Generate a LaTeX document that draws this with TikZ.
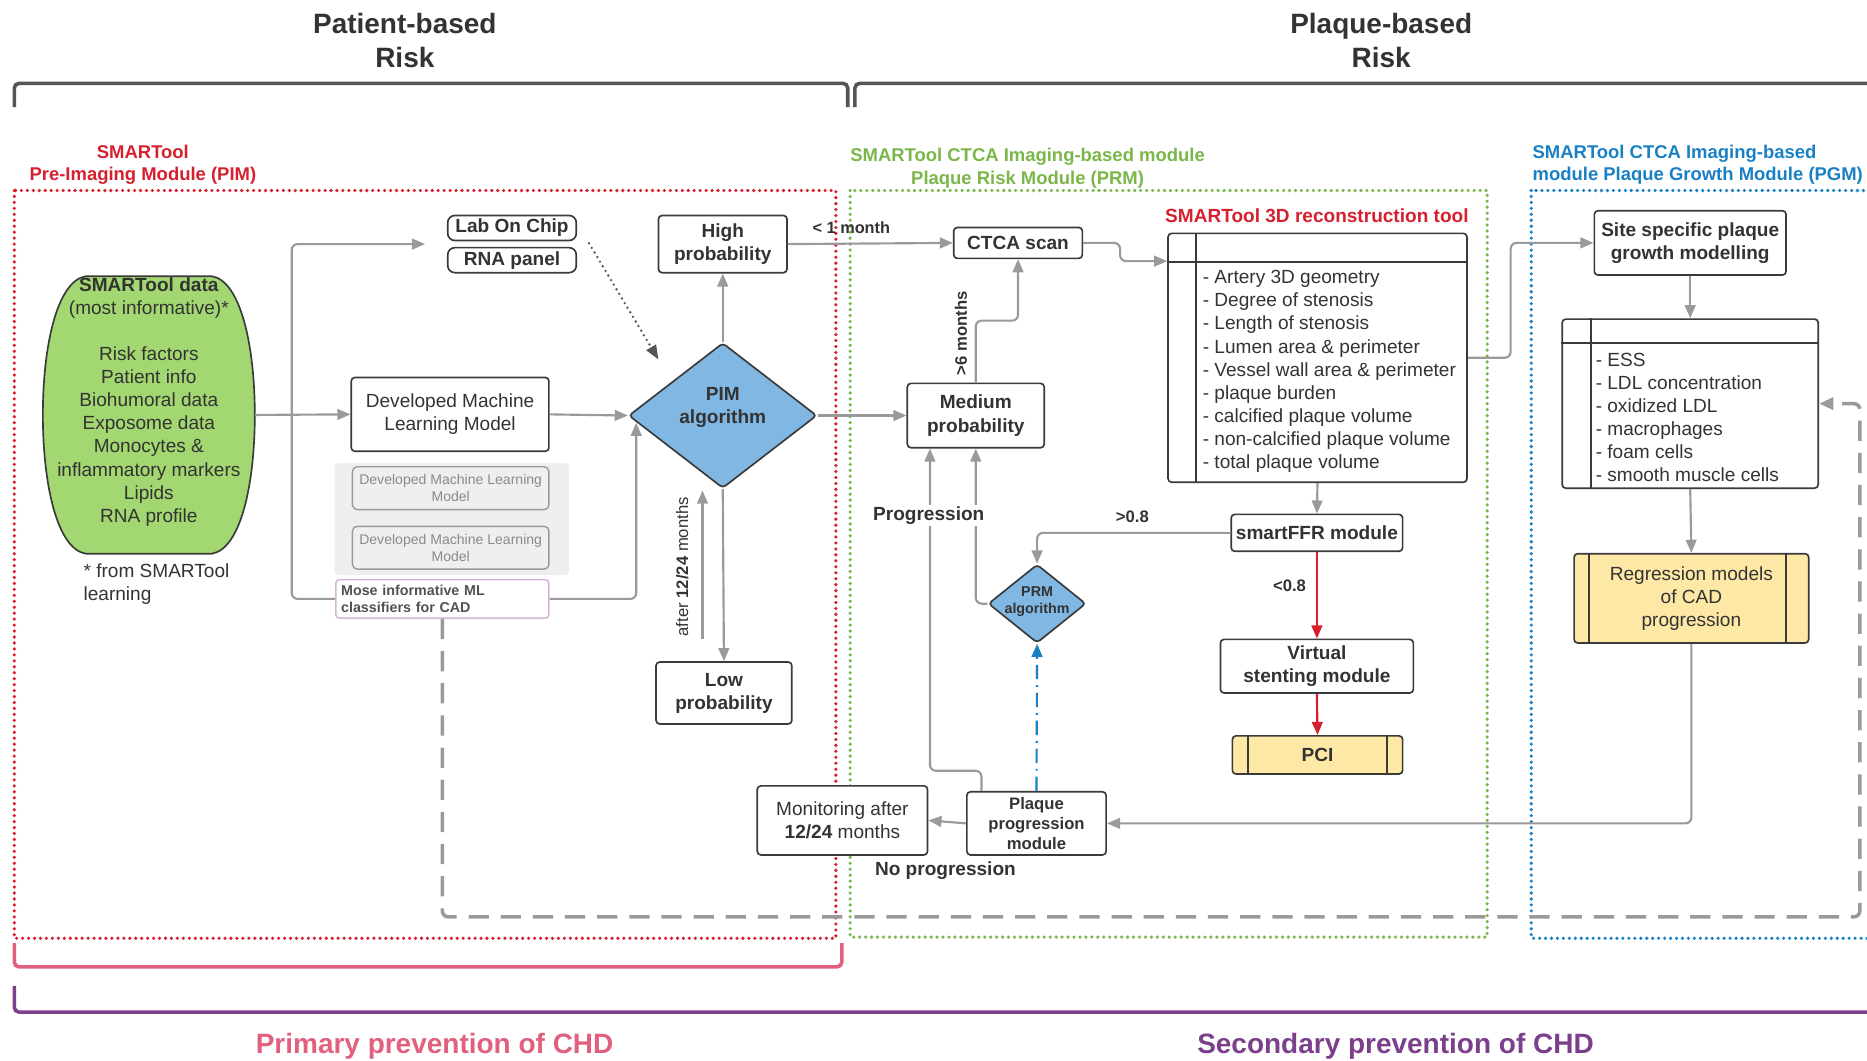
\documentclass[tikz,border=0pt]{standalone}
\usepackage{fontspec}
\setmainfont{Liberation Sans}
\usetikzlibrary{arrows.meta,calc,shapes.geometric}
\definecolor{txt}{HTML}{333333}
\definecolor{bord}{HTML}{3A3A3A}
\definecolor{agray}{HTML}{9A9A9A}
\definecolor{pimred}{HTML}{D6202F}
\definecolor{prmgreen}{HTML}{7AB648}
\definecolor{pgmblue}{HTML}{1A80C4}
\definecolor{pinkb}{HTML}{E0607E}
\definecolor{purpb}{HTML}{7B3F8B}
\definecolor{diafill}{HTML}{80B7E3}
\definecolor{yel}{HTML}{FDE8A6}
\definecolor{grn}{HTML}{A2D771}
\definecolor{panel}{HTML}{EFEFEF}
\definecolor{lilac}{HTML}{D8B2DA}
\definecolor{brk}{HTML}{555555}
\definecolor{gtxt}{HTML}{8A8A8A}
\begin{document}
\begin{tikzpicture}[x=1pt,y=-1pt,
  fbig/.style={font=\fontsize{23.5}{28}\selectfont\bfseries},
  freg/.style={font=\fontsize{15.5}{19}\selectfont\bfseries},
  fn/.style={font=\fontsize{16}{19.4}\selectfont},
  fb/.style={font=\fontsize{16}{19.4}\selectfont\bfseries},
  fsb/.style={font=\fontsize{14}{17}\selectfont\bfseries},
  fs/.style={font=\fontsize{14}{17}\selectfont},
  ftb/.style={font=\fontsize{12}{14.5}\selectfont\bfseries},
  ft/.style={font=\fontsize{11.8}{14.5}\selectfont},
  box/.style={draw=bord, line width=1.4pt, rounded corners=3pt, fill=white, align=center, inner sep=1pt, text=txt},
  arr/.style={draw=agray, line width=1.8pt, -{Triangle[length=11pt,width=9pt]}, rounded corners=5pt},
  ln/.style={draw=agray, line width=1.8pt, rounded corners=5pt},
  redarr/.style={draw=pimred, line width=1.8pt, -{Triangle[length=11pt,width=9pt]}},
  darr/.style={draw=brk, line width=2.2pt, dash pattern=on 0pt off 4.5pt, line cap=round, -{Triangle[length=12pt,width=9pt]}},
  bluearr/.style={draw=pgmblue, line width=1.8pt, dash pattern=on 12pt off 5pt on 1.5pt off 5pt, -{Triangle[length=11pt,width=9pt]}},
  dashret/.style={draw=agray, line width=3pt, dash pattern=on 17pt off 10pt, rounded corners=5pt, -{Triangle[length=12pt,width=10pt]}},
  dotreg/.style={line width=3pt, dash pattern=on 0pt off 5pt, line cap=round},
  brack/.style={line width=3pt, rounded corners=4pt},
  lbl/.style={text=txt, inner sep=1pt},
  dia/.style={shape=diamond, draw=bord, line width=1.4pt, fill=diafill, inner sep=0pt, rounded corners=3pt}
]
\useasboundingbox (0,0) rectangle (1568,891);
\clip (0,0) rectangle (1568,891);

% titles
\node[fbig, text=txt, align=center] (t1) at (340,34) {Patient-based\\Risk};
\node[fbig, text=txt, align=center] (t2) at (1160,34) {Plaque-based\\Risk};

% top brackets
\draw[brack, draw=brk] (12,90) -- (12,70) -- (712,70) -- (712,90);
\draw[brack, draw=brk] (718,90) -- (718,70) -- (1600,70);

% region labels
\node[freg, text=pimred, align=center] (lpim) at (120,138.5) {SMARTool\\Pre-Imaging Module (PIM)};
\node[freg, text=prmgreen, align=center] (lprm) at (863,141.5) {SMARTool CTCA Imaging-based module\\Plaque Risk Module (PRM)};
\node[freg, text=pgmblue, align=left, anchor=west, inner sep=0pt] (lpgm) at (1287,138.5) {SMARTool CTCA Imaging-based\\module Plaque Growth Module (PGM)};

% dotted regions
\draw[dotreg, draw=pimred] (12,160) rectangle (702,788);
\draw[dotreg, draw=prmgreen] (714,160) rectangle (1249,787);
\draw[dotreg, draw=pgmblue] (1286,160) rectangle (1600,788);

% bottom brackets
\draw[brack, draw=pinkb] (12,792) -- (12,812) -- (707,812) -- (707,792);
\draw[brack, draw=purpb] (12,828) -- (12,850) -- (1600,850);
\node[fbig, text=pinkb] (lprim) at (365,879) {Primary prevention of CHD};
\node[fbig, text=purpb] (lsec) at (1172,879) {Secondary prevention of CHD};

% dashed return line (drawn early, under nodes)
\node[draw=lilac, line width=1.3pt, fill=white, rounded corners=3pt, minimum width=179pt, minimum height=32pt, text width=170pt, align=left, inner sep=4.5pt, ftb, text=txt!85] (mose) at (371.5,503) {Mose informative ML\\classifiers for CAD};
\node[draw=bord, line width=1.4pt, rounded corners=3pt, fill=white, minimum width=215pt, minimum height=142pt, inner sep=0pt] (ess) at (1419.5,339) {};
\draw[dashret] (mose.south) |- (1562,770) |- (ess.east);

% SMARTool data barrel
\draw[draw=bord, line width=1.4pt, fill=grn] (72,232) -- (178,232) .. controls (202,236) and (214,290) .. (214,348.5) .. controls (214,407) and (202,461) .. (178,465) -- (72,465) .. controls (48,461) and (36,407) .. (36,348.5) .. controls (36,290) and (48,236) .. (72,232) -- cycle;
\node[minimum width=178pt, minimum height=233pt, inner sep=0pt,
  label={[fn, text=txt, align=center, yshift=11pt]center:{\textbf{SMARTool data}\\(most informative)*\\[19.4pt]Risk factors\\Patient info\\Biohumoral data\\Exposome data\\Monocytes \&\\inflammatory markers\\Lipids\\RNA profile}}] (data) at (125,348.5) {};
\node[fn, text=txt, align=left, anchor=west, inner sep=0pt] (foot) at (70,490.5) {* from SMARTool\\learning};

% left column boxes
\node[box, fb, rounded corners=6pt, minimum width=108pt, minimum height=21pt] (labchip) at (430,191.5) {Lab On Chip};
\node[box, fb, rounded corners=6pt, minimum width=108pt, minimum height=21pt] (rnapanel) at (430,218.5) {RNA panel};
\node[box, fn, minimum width=166pt, minimum height=62pt] (devml) at (378,348) {Developed Machine\\Learning Model};
\node[fill=panel, rounded corners=3pt, minimum width=197pt, minimum height=94pt, inner sep=0pt] (panel) at (379.5,436) {};
\node[draw=agray, line width=1.2pt, fill=panel, rounded corners=4pt, minimum width=165pt, minimum height=36pt, align=center, inner sep=1pt, ft, text=gtxt] (gml1) at (378.5,410) {Developed Machine Learning\\Model};
\node[draw=agray, line width=1.2pt, fill=panel, rounded corners=4pt, minimum width=165pt, minimum height=36pt, align=center, inner sep=1pt, ft, text=gtxt] (gml2) at (378.5,460) {Developed Machine Learning\\Model};

% PIM diamond and probabilities
\node[dia, minimum width=158pt, minimum height=122pt, label={[fb, text=txt, align=center, yshift=7pt]center:{PIM\\algorithm}}] (pim) at (607,349) {};
\node[box, fb, minimum width=108pt, minimum height=48pt] (highp) at (607,205) {High\\probability};
\node[box, fb, minimum width=114pt, minimum height=52pt] (lowp) at (608,582) {Low\\probability};
\node[box, fb, minimum width=115pt, minimum height=54pt] (medp) at (819.5,349) {Medium\\probability};
\node[box, fb, minimum width=108pt, minimum height=26pt] (ctca) at (855,204) {CTCA scan};

% reconstruction tool
\node[text=pimred, font=\fontsize{16}{19}\selectfont\bfseries] (lrecon) at (1106,181) {SMARTool 3D reconstruction tool};
\node[draw=bord, line width=1.4pt, rounded corners=3pt, fill=white, minimum width=251pt, minimum height=209pt, inner sep=0pt] (recon) at (1106.5,300.5) {};
\draw[draw=bord, line width=1.4pt] ($(recon.north west)+(0,25)$) -- ($(recon.north east)+(0,25)$);
\draw[draw=bord, line width=1.4pt] ($(recon.north west)+(24,0)$) -- ($(recon.south west)+(24,0)$);
\node[fn, text=txt, align=left, anchor=west, inner sep=0pt] (reconlist) at (1010,312) {- Artery 3D geometry\\- Degree of stenosis\\- Length of stenosis\\- Lumen area \& perimeter\\- Vessel wall area \& perimeter\\- plaque burden\\- calcified plaque volume\\- non-calcified plaque volume\\- total plaque volume};

\node[box, fb, minimum width=144pt, minimum height=31pt] (smartffr) at (1106,447.5) {smartFFR module};
\node[box, fb, minimum width=162pt, minimum height=45pt] (vstent) at (1106,559.5) {Virtual\\stenting module};
\node[box, fb, fill=yel, minimum width=143pt, minimum height=32pt] (pci) at (1106.5,634) {PCI};
\draw[draw=bord, line width=1.4pt] ($(pci.north west)+(14,0)$) -- ($(pci.south west)+(14,0)$);
\draw[draw=bord, line width=1.4pt] ($(pci.north east)+(-14,0)$) -- ($(pci.south east)+(-14,0)$);

\node[dia, minimum width=82pt, minimum height=66pt, label={[ftb, text=txt, align=center, yshift=1.5pt]center:{PRM\\algorithm}}] (prm) at (871,507) {};

\node[box, fsb, minimum width=117pt, minimum height=53pt] (ppm) at (870.5,691.5) {Plaque\\progression\\module};
\node[box, fn, minimum width=143pt, minimum height=58pt] (monitor) at (707.5,689) {Monitoring after\\\textbf{12/24} months};

% PGM column
\node[box, fb, minimum width=161pt, minimum height=54pt] (site) at (1419.5,204) {Site specific plaque\\growth modelling};
\draw[draw=bord, line width=1.4pt] ($(ess.north west)+(0,21)$) -- ($(ess.north east)+(0,21)$);
\draw[draw=bord, line width=1.4pt] ($(ess.north west)+(25,0)$) -- ($(ess.south west)+(25,0)$);
\node[fn, text=txt, align=left, anchor=west, inner sep=0pt] (esslist) at (1340,350.5) {- ESS\\- LDL concentration\\- oxidized LDL\\- macrophages\\- foam cells\\- smooth muscle cells};
\node[box, fn, fill=yel, minimum width=197pt, minimum height=75pt] (regr) at (1420.5,502.5) {Regression models\\of CAD\\progression};
\draw[draw=bord, line width=1.4pt] ($(regr.north west)+(13,0)$) -- ($(regr.south west)+(13,0)$);
\draw[draw=bord, line width=1.4pt] ($(regr.north east)+(-20,0)$) -- ($(regr.south east)+(-20,0)$);

% connectors
\coordinate (branch) at (245,348);
\coordinate (labin) at (357,205);
\coordinate (dotend) at (553,302);
\coordinate (upa) at (590,537);
\coordinate (upb) at (590,412);
\draw[arr] (data.east) -- (devml.west);
\draw[arr] (branch) |- (labin);
\draw[ln] (branch) |- (mose.west);
\draw[arr] (devml.east) -- (pim.west);
\draw[arr] (mose.east) -| ($(pim.west)+(7,6)$);
\draw[darr] ($(rnapanel.north east)+(10,-3)$) -- (dotend);
\draw[arr] (pim.north) -- (highp.south);
\draw[arr] (pim.south) -- (lowp.north);
\draw[arr] (upa) -- (upb);
\draw[arr] (pim.east) -- (medp.west);
\draw[arr] (highp.east) -- (ctca.west);
\draw[arr] (medp.north) -- ++(0,-52) -| (ctca.south);
\draw[arr] (ctca.east) -- ++(31,0) |- ($(recon.north west)+(0,24)$);
\draw[arr] (recon.east) -- ++(36,0) |- (site.west);
\draw[arr] (recon.south) -- (smartffr.north);
\draw[arr] (smartffr.west) -| (prm.north);
\draw[redarr] (smartffr.south) -- (vstent.north);
\draw[redarr] (vstent.south) -- (pci.north);
\draw[arr] (prm.west) -| (medp.south);
\draw[arr] ($(ppm.north west)+(13,0)$) -- ++(0,-17) -| ($(medp.south)+(-38.5,0)$);
\draw[bluearr] (ppm.north) -- (prm.south);
\draw[arr] (ppm.west) -- (monitor.east);
\draw[arr] (regr.south) |- (ppm.east);
\draw[arr] (site.south) -- (ess.north);
\draw[arr] (ess.south) -- (regr.north);

% labels
\node[lbl, font=\fontsize{13.7}{16}\selectfont\bfseries] (l1m) at (715,191) {< 1 month};
\node[lbl, fs, rotate=90] (l1224) at (573,476) {after \textbf{12/24} months};
\node[lbl, fsb, rotate=90] (l6m) at (807,280) {>6 months};
\node[lbl, fb, fill=white] (lprog) at (780,433) {Progression};
\node[lbl, fb] (lnoprog) at (794,731) {No progression};
\node[lbl, fsb] (lgt) at (951,434) {>0.8};
\node[lbl, fsb] (llt) at (1083,492) {<0.8};
\end{tikzpicture}
\end{document}
